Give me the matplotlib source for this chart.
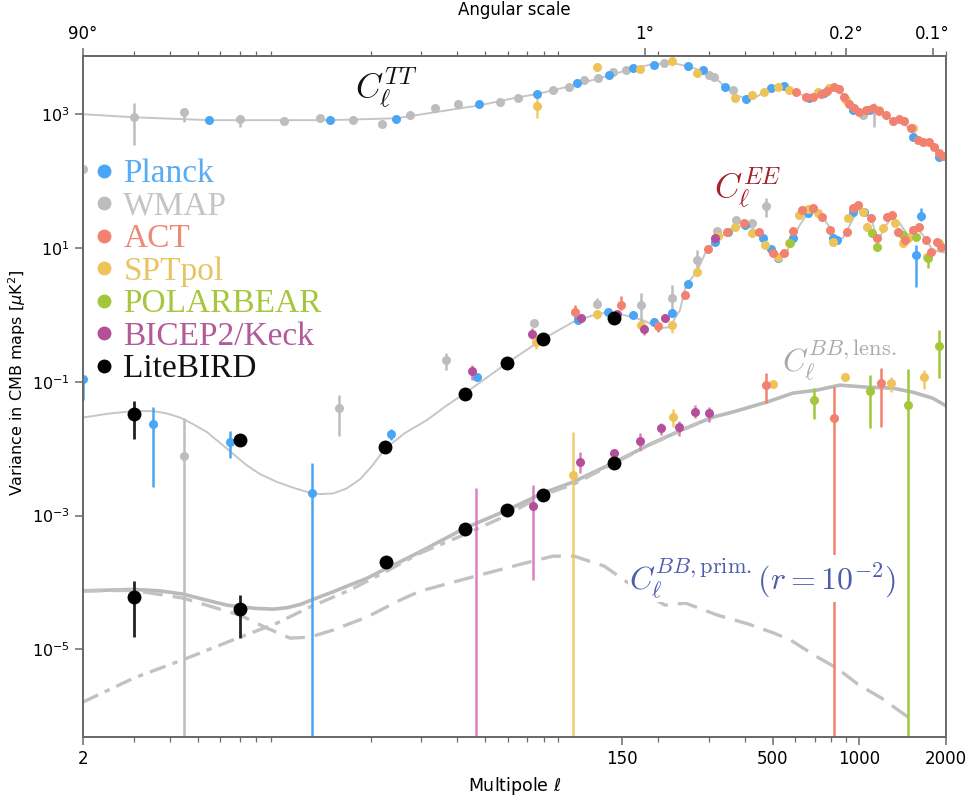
import numpy as np
import matplotlib
matplotlib.use("Agg")
import matplotlib.pyplot as plt
from matplotlib.lines import Line2D
from matplotlib.ticker import FixedLocator, LogLocator, NullFormatter, NullLocator

plt.rcParams["mathtext.fontset"] = "dejavusans"
plt.rcParams["font.family"] = ["DejaVu Sans"]

# ---------------- theory curves ----------------
tt_ell = [2, 3, 5.5, 10.5, 14.4, 24.7, 33.4, 48, 65, 75.7, 98.6, 125, 156, 191, 225, 254, 286, 317,
          344, 372, 403, 437, 484, 542, 601, 667, 747, 828, 883, 949, 1028, 1114, 1208, 1307, 1416,
          1535, 1663, 1800, 2000]
tt_val = [1000, 900, 815, 815, 815, 870, 1070, 1360, 1790, 2000, 2620, 3450, 4560, 5600, 5800, 5200,
          4400, 3450, 2520, 1920, 1740, 1790, 2360, 2520, 2130, 1790, 2050, 2520, 1920, 1270, 1070,
          1230, 1035, 815, 760, 540, 380, 323, 250]

ee_ell = [2, 2.48, 3, 3.51, 3.91, 4.35, 4.83, 5.38, 5.83, 6.32, 6.84, 7.41, 8.25, 9.43, 10.8, 12.0,
          13.3, 14.8, 16.5, 18.4, 20.2, 22.4, 26.3, 31.4, 36.5, 42.6, 59.6, 79.4, 101, 125, 144, 177,
          203, 219, 238, 250, 272, 297, 315, 346, 375, 400, 427, 462, 489, 521, 560, 588, 621, 662,
          711, 747, 790, 836, 877, 927, 988, 1062, 1114, 1159, 1228, 1298, 1384, 1476, 1585, 1690,
          1800, 1950, 2000]
ee_val = [0.0292, 0.0336, 0.0364, 0.0364, 0.0336, 0.0292, 0.0232, 0.0178, 0.0134, 0.01007, 0.00755,
          0.00566, 0.00416, 0.00319, 0.00259, 0.00226, 0.00209, 0.00214, 0.00254, 0.0035, 0.00547,
          0.00984, 0.0171, 0.0267, 0.0432, 0.0676, 0.19, 0.434, 0.778, 1.06, 1.06, 0.834, 0.633,
          0.655, 1.17, 2.78, 4.35, 9.93, 12.2, 17.2, 20.5, 21.9, 19.8, 13.1, 9.27, 7.04, 8.65, 14.0,
          21.9, 33.1, 34.3, 28.9, 20.5, 13.1, 14.0, 21.9, 36.7, 34.3, 23.5, 12.2, 20.5, 28.9, 23.5,
          15.5, 19.8, 14.5, 9.27, 8.65, 8.5]

bb_tot_ell = [2, 2.42, 3, 3.7, 4.46, 5.38, 6.32, 7.03, 8.03, 9.17, 10.2, 11.4, 12.6, 14.8, 16.9, 19.4,
              22.1, 25.3, 29.7, 42.6, 59.6, 79.4, 101, 139, 191, 250, 310, 363, 477, 588, 711, 855,
              1062, 1307, 1535, 1800, 2000]
bb_tot_val = [7.48e-5, 7.67e-5, 7.86e-5, 7.48e-5, 6.68e-5, 5.43e-5, 4.58e-5, 4.32e-5, 4.08e-5, 3.99e-5,
              4.17e-5, 4.69e-5, 5.57e-5, 7.23e-5, 9.12e-5, 1.15e-4, 1.53e-4, 2.03e-4, 2.87e-4, 6.49e-4,
              1.2e-3, 2.16e-3, 3.16e-3, 6.07e-3, 0.0121, 0.0203, 0.0296, 0.0352, 0.0496, 0.0676,
              0.0748, 0.089, 0.083, 0.0802, 0.07, 0.0569, 0.044]

bb_lens_ell = [2, 3, 4.6, 7.03, 9.44, 12.3, 16.9, 22.1, 29.7, 41.9, 57.7, 79.4, 101, 139, 191, 250, 310]
bb_lens_val = [1.63e-6, 3.71e-6, 7.38e-6, 1.52e-5, 2.46e-5, 4.28e-5, 7.67e-5, 1.38e-4, 2.74e-4,
               5.09e-4, 9.46e-4, 2.02e-3, 2.9e-3, 5.9e-3, 0.0119, 0.0201, 0.0294]

bb_prim_ell = [2, 3, 4.46, 7.03, 8.73, 10.5, 12.3, 14.8, 19.4, 25.3, 29.7, 45, 68.7, 86, 102, 130, 169,
               211, 249, 322, 413, 505, 578, 706, 836, 988, 1197, 1499]
bb_prim_val = [7.48e-5, 7.6e-5, 5.82e-5, 3.24e-5, 2.07e-5, 1.47e-5, 1.52e-5, 1.94e-5, 3.03e-5, 5.43e-5,
               7.41e-5, 1.2e-4, 1.94e-4, 2.47e-4, 2.47e-4, 1.75e-4, 7.94e-5, 4.58e-5, 4.91e-5, 3.24e-5,
               2.38e-5, 1.75e-5, 1.37e-5, 7.92e-6, 5.24e-6, 3.02e-6, 1.86e-6, 9.3e-7]

# ---------------- measurements ----------------
# Planck
pl_tt_ell = [5.5, 14.4, 24.5, 47.5, 75.7, 104, 135, 163, 193, 253, 286, 341, 403, 492, 547, 667, 753,
             949, 1080, 1535, 1889]
pl_tt_val = [815, 815, 840, 1410, 1990, 2900, 3830, 4880, 5400, 5210, 4550, 2530, 1680, 2450, 2620,
             1730, 2060, 1150, 1150, 453, 228]
pl_ee_ell = [2, 3.5, 6.5, 12.5, 23.5, 47, 105, 134, 163, 193, 223, 254, 315, 350, 400, 462, 492, 521,
             588, 662, 810, 836, 950, 1040, 1580, 1640]
pl_ee_val = [0.109, 0.0232, 0.0125, 0.00216, 0.0165, 0.117, 0.834, 1.1, 0.99, 0.778, 1.06, 2.88, 12.2,
             17.5, 21.9, 14.0, 9.5, 7.0, 14.0, 33.0, 14.0, 13.0, 35.0, 34.0, 7.8, 30.0]
pl_err_ell = [2, 3.5, 6.5, 12.5, 23.5, 1580, 1640]
pl_err_lo = [0.053, 0.00266, 0.0072, 1e-7, 0.0134, 2.6, 25]
pl_err_hi = [0.109, 0.0417, 0.0183, 0.00607, 0.0196, 11, 40]

# WMAP
wm_tt_ell = [2, 3, 4.5, 7, 10, 13.3, 17.3, 21.9, 27.4, 33.4, 40.2, 56.3, 65, 86, 97.8, 110, 124, 139,
             154, 209, 300, 312, 363, 1028, 1123]
wm_tt_val = [151, 900, 1070, 840, 785, 870, 815, 708, 966, 1230, 1410, 1510, 1730, 2290, 2530, 3220,
             3450, 4250, 4550, 5780, 3830, 3570, 2290, 966, 1150]
wm_ee_ell = [4.5, 15.5, 36.6, 74, 123, 175, 223, 272, 320, 372, 423, 473]
wm_ee_val = [0.00773, 0.0403, 0.21, 0.752, 1.45, 1.4, 1.78, 6.6, 17.8, 26, 23.5, 42.2]
wm_err_ell = [3, 4.5, 7, 1028, 1123, 4.5, 15.5, 36.6, 123, 175, 223, 272, 473]
wm_err_lo = [344, 760, 640, 850, 640, 1e-7, 0.0154, 0.149, 1.25, 0.70, 0.925, 4.3, 28.9]
wm_err_hi = [1460, 1230, 966, 1100, 1460, 0.0286, 0.063, 0.268, 1.8, 2.11, 2.78, 9.3, 55.5]

# ACT
ac_tt_ell = [601, 652, 689, 735, 776, 815, 849, 883, 920, 957, 995, 1054, 1114, 1169, 1236, 1307, 1371,
             1428, 1510, 1596, 1663, 1745, 1816, 1889, 1950]
ac_tt_val = [2130, 1800, 1800, 1990, 2210, 2530, 2370, 1800, 1410, 1230, 1070, 1150, 1230, 1110, 966,
             785, 840, 785, 617, 408, 381, 381, 321, 261, 236]
ac_ee_ell = [103, 149, 199, 247, 297, 346, 397, 448, 502, 547, 588, 635, 689, 741, 790, 906, 949, 988,
             1097, 1151, 1247, 1298, 1361, 1439, 1535, 1610, 1702, 1780, 1858, 1930]
ac_ee_val = [1.1, 1.4, 0.678, 1.97, 9.6, 17.2, 23.5, 17.2, 8.4, 8.4, 17.8, 36.7, 39.4, 28.9, 18.5, 17.2,
             39.4, 43.7, 27.9, 14.0, 28.9, 30.9, 17.2, 13.1, 18.5, 20.5, 13.1, 8.65, 12.2, 10.3]
ac_bb_ell = [473, 815, 1189]
ac_bb_val = [0.089, 0.0286, 0.0953]
ac_err_ell = [103, 149, 199, 473, 815, 1189]
ac_err_lo = [0.778, 1.17, 0.55, 0.048, 1e-7, 0.021]
ac_err_hi = [1.4, 1.9, 0.78, 0.135, 0.083, 0.16]

# SPTpol
sp_tt_ell = [75.7, 123, 173, 223, 272, 369, 423, 466, 521, 569, 718, 783, 897, 1169, 1535]
sp_tt_val = [1320, 5040, 4710, 6200, 4100, 1730, 1920, 2130, 2530, 2290, 2130, 2450, 1620, 1150, 617]
sp_ee_ell = [75, 123, 175, 223, 272, 322, 369, 423, 470, 521, 569, 616, 662, 718, 809, 912, 1028, 1062,
             1208, 1328, 1416, 1476, 1718, 1897]
sp_ee_val = [0.391, 1.02, 0.702, 0.702, 4.35, 15.0, 20.5, 16.6, 11.0, 7.3, 11.8, 30.9, 38.0, 33.1,
             12.2, 27.9, 34.3, 20.5, 19.8, 23.5, 11.8, 14.0, 7.3, 11.8]
sp_bb_ell = [101, 225, 500, 891, 1286, 1675]
sp_bb_val = [4.02e-3, 0.0296, 0.092, 0.117, 0.0953, 0.117]
sp_err_ell = [75.7, 75, 123, 223, 101, 225, 1286, 1675]
sp_err_lo = [870, 0.31, 0.87, 0.53, 1e-7, 0.021, 0.07, 0.078]
sp_err_hi = [1920, 0.5, 1.2, 0.8, 0.0177, 0.039, 0.117, 0.15]

# POLARBEAR
pb_ee_ell = [575, 1104, 1151, 1416, 1580, 1730]
pb_ee_val = [11.8, 16.6, 10.3, 15.5, 14.5, 7.0]
pb_bb_ell = [695, 1089, 1476, 1897]
pb_bb_val = [0.0531, 0.0724, 0.0447, 0.34]
pb_err_ell = [1730, 695, 1089, 1476, 1897]
pb_err_lo = [5.0, 0.0276, 0.0203, 1e-7, 0.113]
pb_err_hi = [9.0, 0.08, 0.126, 0.155, 0.59]

# BICEP2/Keck
bk_ee_ell = [45, 73, 108, 144, 178, 212, 315]
bk_ee_val = [0.144, 0.515, 0.893, 1.02, 0.611, 0.893, 14.0]
bk_bb_ell = [73.3, 107, 140, 173, 204, 236, 268, 300]
bk_bb_val = [1.38e-3, 6.28e-3, 8.57e-3, 0.0129, 0.0203, 0.021, 0.0352, 0.034]
bk_err_ell = [45, 73, 178, 46.5, 73.3, 107, 140, 173, 204, 236, 268, 300]
bk_err_lo = [0.106, 0.43, 0.5, 1e-7, 1.08e-4, 4.3e-3, 7.2e-3, 9.5e-3, 0.0159, 0.0155, 0.0286, 0.025]
bk_err_hi = [0.177, 0.63, 0.72, 2.57e-3, 2.85e-3, 8.87e-3, 9.5e-3, 0.017, 0.024, 0.026, 0.0447, 0.042]

# LiteBIRD forecast
lb_ee_ell = [3, 7, 22.4, 42.6, 59.6, 79.4, 140]
lb_ee_val = [0.0328, 0.0134, 0.0105, 0.0653, 0.19, 0.434, 0.893]
lb_bb_ell = [3, 7, 22.6, 42.6, 59.6, 79.4, 140]
lb_bb_val = [6.03e-5, 3.99e-5, 2.01e-4, 6.27e-4, 1.2e-3, 2.02e-3, 6.07e-3]
lb_err_ell = [3, 7, 3, 7]
lb_err_lo = [0.0139, 0.011, 1.52e-5, 1.47e-5]
lb_err_hi = [0.0513, 0.016, 1.05e-4, 6.46e-5]

names = ["Planck", "WMAP", "ACT", "SPTpol", "POLARBEAR", "BICEP2/Keck", "LiteBIRD"]
colors = ["#4aa6f5", "#bdbdbd", "#f2826f", "#eec35a", "#a2c73a", "#b4509a", "#000000"]
text_colors = ["#58acf2", "#c4c4c4", "#ee8a78", "#e9c462", "#a6c63c", "#b35a98", "#111111"]

# ---------------- figure ----------------
fig = plt.figure(figsize=(9.66, 8.01), dpi=100)
ax = fig.add_axes([0.086, 0.080, 0.893, 0.850])
ax.set_xscale("log")
ax.set_yscale("log")

curve_c = "#c6c6c6"
ax.plot(tt_ell, tt_val, color=curve_c, lw=1.4, zorder=1)
ax.plot(ee_ell, ee_val, color=curve_c, lw=1.4, zorder=1)
ax.plot(bb_tot_ell, bb_tot_val, color="#bababa", lw=2.6, zorder=1)
ax.plot(bb_lens_ell, bb_lens_val, color="#c2c2c2", lw=2.4, dashes=(5, 2.2, 1.6, 2.2), zorder=1)
ax.plot(bb_prim_ell, bb_prim_val, color="#c2c2c2", lw=2.4, dashes=(6, 3), zorder=1)


def draw(ell, val, color, ms=6.5, z=3):
    ax.plot(ell, val, "o", color=color, ms=ms, mec="none", zorder=z)


def bars(ell, lo, hi, color, lw=1.8, z=2.5, alpha=1.0):
    ax.vlines(ell, lo, hi, color=color, lw=lw, zorder=z, alpha=alpha)


c_pl, c_wm, c_ac, c_sp, c_pb, c_bk, c_lb = colors

bars(wm_err_ell, wm_err_lo, wm_err_hi, c_wm)
draw(wm_tt_ell, wm_tt_val, c_wm)
draw(wm_ee_ell, wm_ee_val, c_wm)

bars(pl_err_ell, pl_err_lo, pl_err_hi, c_pl)
draw(pl_tt_ell, pl_tt_val, c_pl)
draw(pl_ee_ell, pl_ee_val, c_pl)

bars(sp_err_ell, sp_err_lo, sp_err_hi, c_sp, alpha=0.85)
draw(sp_tt_ell, sp_tt_val, c_sp, z=3.2)
draw(sp_ee_ell, sp_ee_val, c_sp, z=3.2)
draw(sp_bb_ell, sp_bb_val, c_sp, z=3.2)

bars(pb_err_ell, pb_err_lo, pb_err_hi, c_pb)
draw(pb_ee_ell, pb_ee_val, c_pb, z=3.3)
draw(pb_bb_ell, pb_bb_val, c_pb, z=3.3)

bars(bk_err_ell, bk_err_lo, bk_err_hi, "#d66bb4", alpha=0.85)
draw(bk_ee_ell, bk_ee_val, c_bk, z=3.3)
draw(bk_bb_ell, bk_bb_val, c_bk, z=3.3)

bars(ac_err_ell, ac_err_lo, ac_err_hi, c_ac)
draw(ac_tt_ell, ac_tt_val, c_ac, z=3.4)
draw(ac_ee_ell, ac_ee_val, c_ac, z=3.4)
draw(ac_bb_ell, ac_bb_val, c_ac, z=3.4)

bars(lb_err_ell, lb_err_lo, lb_err_hi, "#222222", lw=2.0, z=3.5)
draw(lb_ee_ell, lb_ee_val, c_lb, ms=10, z=4)
draw(lb_bb_ell, lb_bb_val, c_lb, ms=10, z=4)

# ---------------- axes ----------------
ax.set_xlim(2, 2000)
ax.set_ylim(4.9e-7, 7.4e3)

spine_c = "#6a6a6a"
for s in ax.spines.values():
    s.set_color(spine_c)
    s.set_linewidth(1.3)

ax.xaxis.set_major_locator(FixedLocator([2, 150, 500, 1000, 2000]))
ax.set_xticklabels(["2", "150", "500", "1000", "2000"])
ax.xaxis.set_minor_locator(LogLocator(base=10, subs=np.arange(2, 10)))
ax.xaxis.set_minor_formatter(NullFormatter())
ax.yaxis.set_major_locator(FixedLocator([1e3, 1e1, 1e-1, 1e-3, 1e-5]))
ax.set_yticklabels([r"$10^{3}$", r"$10^{1}$", r"$10^{-1}$", r"$10^{-3}$", r"$10^{-5}$"])
ax.yaxis.set_minor_locator(NullLocator())
ax.tick_params(which="major", length=6, width=1.1, color=spine_c, labelsize=12, pad=3.5)
ax.tick_params(axis="y", labelsize=11.5)
ax.tick_params(which="minor", length=3.5, width=0.9, color=spine_c)

ax.set_xlabel(r"Multipole $\ell$", fontsize=12.5, labelpad=5)
ax.set_ylabel(r"Variance in CMB maps [$\mu$K$^2$]", fontsize=11.5)
ax.yaxis.set_label_coords(-0.064, 0.52)

top = ax.twiny()
top.set_xscale("log")
top.set_xlim(ax.get_xlim())
top.xaxis.set_major_locator(FixedLocator([2, 180, 900, 1800]))
top.set_xticklabels(["90°", "1°", "0.2°", "0.1°"])
top.xaxis.set_minor_locator(LogLocator(base=10, subs=np.arange(2, 10)))
top.xaxis.set_minor_formatter(NullFormatter())
top.tick_params(which="major", length=6, width=1.1, color=spine_c, labelsize=12, pad=3.5)
top.tick_params(which="minor", length=3.5, width=0.9, color=spine_c)
top.set_xlabel("Angular scale", fontsize=12, labelpad=7)
for s in top.spines.values():
    s.set_color(spine_c)
    s.set_linewidth(1.3)

# ---------------- labels ----------------
ax.text(0.351, 0.953, r"$C_\ell^{TT}$", transform=ax.transAxes, fontsize=25, color="#111111",
        ha="center", va="center", math_fontfamily="cm")
ax.text(0.771, 0.805, r"$C_\ell^{EE}$", transform=ax.transAxes, fontsize=25, color="#a3202c",
        ha="center", va="center", math_fontfamily="cm")
ax.text(0.877, 0.553, r"$C_\ell^{BB,\mathrm{lens.}}$", transform=ax.transAxes, fontsize=23,
        color="#a9a9a9", ha="center", va="center", math_fontfamily="cm")
ax.text(0.788, 0.233, r"$C_\ell^{BB,\mathrm{prim.}}(r=10^{-2})$", transform=ax.transAxes, fontsize=23,
        color="#4d5dae", ha="center", va="center", math_fontfamily="cm", zorder=6,
        bbox=dict(facecolor="white", edgecolor="none", pad=1))

handles = [Line2D([], [], marker="o", ls="none", color=c, ms=10, mec="none") for c in colors]
ax.legend(handles, names, loc="upper left", bbox_to_anchor=(0.010, 0.849), frameon=False,
          prop={"family": "Liberation Serif", "size": 24}, labelcolor=text_colors,
          handlelength=0.75, handletextpad=0.2, labelspacing=0.06, borderpad=0, borderaxespad=0)

fig.savefig("out.png", dpi=100)
